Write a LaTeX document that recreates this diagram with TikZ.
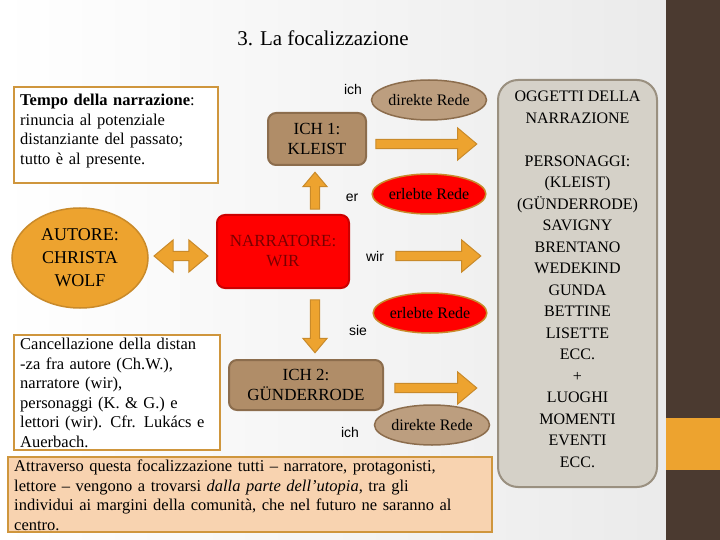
\documentclass[tikz,border=0pt]{standalone}
\usepackage{fontspec}
\setmainfont{Liberation Serif}
\setsansfont{Liberation Sans}
\usetikzlibrary{shapes.geometric,shapes.arrows}
\definecolor{tan}{HTML}{B08D68}
\definecolor{tanb}{HTML}{8C6D4D}
\definecolor{ora}{HTML}{EDA32F}
\definecolor{orab}{HTML}{C98A2A}
\definecolor{dark}{HTML}{4B3A30}
\definecolor{peach}{HTML}{F8D3B0}
\definecolor{grayb}{HTML}{D5D1C8}
\definecolor{graybd}{HTML}{9A9080}
\definecolor{redtxt}{HTML}{7A0000}
\begin{document}
\begin{tikzpicture}[x=1pt,y=-1pt,
  txt/.style={font=\fontsize{16.5}{19.5}\selectfont},
  pron/.style={font=\sffamily\fontsize{14}{16}\selectfont},
  ell/.style={ellipse,draw=tanb,line width=1.5pt,fill=tan!85!white,inner sep=0pt,minimum width=108pt,minimum height=40pt,font=\fontsize{16}{18}\selectfont},
  rell/.style={ell,fill=red,draw=orab},
  box/.style={rounded corners=8pt,draw=tanb,line width=2pt,fill=tan,align=center,font=\fontsize{17}{20}\selectfont},
  arr/.style={single arrow,draw=orab,fill=ora,line width=1pt,minimum width=32pt,single arrow head extend=6pt,single arrow tip angle=80,inner sep=2pt},
  darr/.style={double arrow,draw=orab,fill=ora,line width=1pt,minimum width=32pt,double arrow head extend=6pt,double arrow tip angle=80,inner sep=2pt}]
\useasboundingbox (0,0) rectangle (720,540);
\shade[left color=white,right color=black!8] (0,0) rectangle (666,540);
\fill[dark] (666,0) rectangle (720,540);
\fill[ora] (666,418) rectangle (720,470);
\node (title) at (323,38) {\fontsize{21}{24}\selectfont 3. La focalizzazione};
% Tempo box
\draw[draw=ora!85!black!90,line width=2pt,fill=white] (14,87) rectangle (218,183);
\node[txt,anchor=north west,text width=194pt,inner sep=0pt] (tempo) at (20,94)
 {\textbf{Tempo della narrazione}:\linebreak rinuncia al potenziale\linebreak distanziante del passato;\linebreak tutto è al presente.};
% right column
\node[ell] (dr1) at (429,100) {direkte Rede};
\node[pron] (ich1) at (353,89) {ich};
\node[box,minimum width=98pt,minimum height=52pt] (k) at (317,139) {ICH 1:\\KLEIST};
\node[arr,minimum height=101pt] (a1) at (423.5,144) {};
\node[arr,minimum height=37pt,minimum width=24pt,single arrow head extend=4pt,rotate=90] (up) at (315,193.5) {};
\node[pron] (er) at (352,198) {er};
\node[rell] (er1) at (429,194) {erlebte Rede};
\node[ellipse,draw=orab,line width=1.5pt,fill=ora,minimum width=136pt,minimum height=100pt,inner sep=0pt,align=center,font=\fontsize{18}{23}\selectfont] (aut) at (80,258) {AUTORE:\\CHRISTA\\WOLF};
\node[darr,minimum height=54pt] (da) at (181,256) {};
\node[box,fill=red,draw=red!80!black,text=redtxt,minimum width=132pt,minimum height=73pt] (nar) at (283,251.5) {NARRATORE:\\WIR};
\node[pron] (wir) at (375,256) {wir};
\node[arr,minimum height=85pt] (a2) at (435.5,256) {};
\node[arr,minimum height=53pt,minimum width=24pt,single arrow head extend=4pt,rotate=-90] (down) at (315,323.5) {};
\node[pron] (sie) at (358,330) {sie};
\node[rell] (er2) at (430,313) {erlebte Rede};
\node[box,minimum width=154pt,minimum height=50pt] (g) at (306,385) {ICH 2:\\GÜNDERRODE};
\node[arr,minimum height=82pt] (a3) at (433,388) {};
\node[pron] (ich2) at (350,432) {ich};
\node[ell] (dr2) at (432,425) {direkte Rede};
% Cancellazione box
\draw[draw=ora!85!black!90,line width=2pt,fill=white] (14,335) rectangle (220,450);
\node[txt,anchor=north west,text width=196pt,inner sep=0pt] (canc) at (20,338)
 {Cancellazione della distan\linebreak -za fra autore (Ch.W.),\linebreak narratore (wir),\linebreak personaggi (K. \& G.) e\linebreak lettori (wir). Cfr. Lukács e\linebreak Auerbach.};
% bottom box
\draw[draw=ora!85!black!90,line width=1.5pt,fill=peach] (8,457) rectangle (492,532);
\node[txt,anchor=north west,text width=474pt,inner sep=0pt] (bot) at (14,460)
 {Attraverso questa focalizzazione tutti – narratore, protagonisti,\linebreak lettore – vengono a trovarsi \textit{dalla parte dell’utopia}, tra gli\linebreak individui ai margini della comunità, che nel futuro ne saranno al\linebreak centro.};
% gray box
\draw[draw=graybd,line width=2pt,fill=grayb,rounded corners=20pt] (498,80) rectangle (657,487);
\node[anchor=north,align=center,font=\fontsize{16}{21.5}\selectfont,inner sep=0pt] (obj) at (577.5,91)
 {OGGETTI DELLA\\NARRAZIONE\\[21.5pt]PERSONAGGI:\\(KLEIST)\\(GÜNDERRODE)\\SAVIGNY\\BRENTANO\\WEDEKIND\\GUNDA\\BETTINE\\LISETTE\\ECC.\\+\\LUOGHI\\MOMENTI\\EVENTI\\ECC.};
\end{tikzpicture}
\end{document}
